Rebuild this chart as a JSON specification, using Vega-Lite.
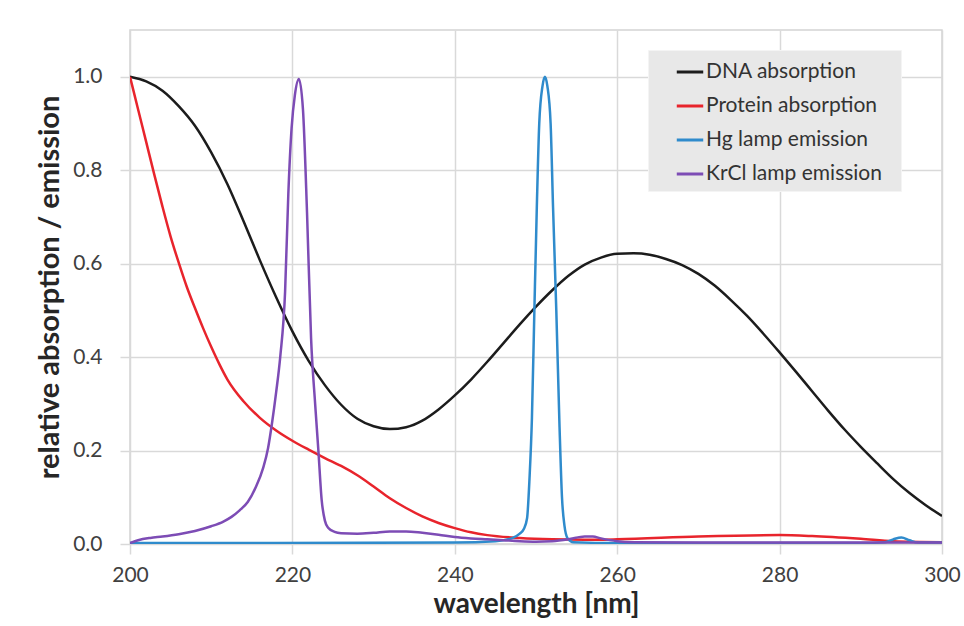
{
  "$schema": "https://vega.github.io/schema/vega-lite/v6.json",
  "autosize": "none",
  "width": 812,
  "height": 514,
  "padding": {"left": 130, "top": 30, "right": 22, "bottom": 82},
  "background": "white",
  "config": {
    "font": "Lato",
    "view": {"stroke": "#d4d4d4", "strokeWidth": 1.5}
  },
  "datasets": {
    "spectra": [
      {"series": "DNA absorption", "wavelength": 200, "value": 1.0},
      {"series": "DNA absorption", "wavelength": 202, "value": 0.99},
      {"series": "DNA absorption", "wavelength": 204, "value": 0.97},
      {"series": "DNA absorption", "wavelength": 206, "value": 0.937},
      {"series": "DNA absorption", "wavelength": 208, "value": 0.895},
      {"series": "DNA absorption", "wavelength": 210, "value": 0.838},
      {"series": "DNA absorption", "wavelength": 212, "value": 0.77},
      {"series": "DNA absorption", "wavelength": 214, "value": 0.69},
      {"series": "DNA absorption", "wavelength": 216, "value": 0.607},
      {"series": "DNA absorption", "wavelength": 218, "value": 0.528},
      {"series": "DNA absorption", "wavelength": 220, "value": 0.455},
      {"series": "DNA absorption", "wavelength": 222, "value": 0.392},
      {"series": "DNA absorption", "wavelength": 224, "value": 0.34},
      {"series": "DNA absorption", "wavelength": 226, "value": 0.298},
      {"series": "DNA absorption", "wavelength": 228, "value": 0.268},
      {"series": "DNA absorption", "wavelength": 230, "value": 0.252},
      {"series": "DNA absorption", "wavelength": 232, "value": 0.246},
      {"series": "DNA absorption", "wavelength": 234, "value": 0.25},
      {"series": "DNA absorption", "wavelength": 236, "value": 0.264},
      {"series": "DNA absorption", "wavelength": 238, "value": 0.288},
      {"series": "DNA absorption", "wavelength": 240, "value": 0.318},
      {"series": "DNA absorption", "wavelength": 242, "value": 0.352},
      {"series": "DNA absorption", "wavelength": 244, "value": 0.39},
      {"series": "DNA absorption", "wavelength": 246, "value": 0.43},
      {"series": "DNA absorption", "wavelength": 248, "value": 0.47},
      {"series": "DNA absorption", "wavelength": 250, "value": 0.508},
      {"series": "DNA absorption", "wavelength": 252, "value": 0.543},
      {"series": "DNA absorption", "wavelength": 254, "value": 0.574},
      {"series": "DNA absorption", "wavelength": 256, "value": 0.598},
      {"series": "DNA absorption", "wavelength": 258, "value": 0.613},
      {"series": "DNA absorption", "wavelength": 260, "value": 0.621},
      {"series": "DNA absorption", "wavelength": 262, "value": 0.622},
      {"series": "DNA absorption", "wavelength": 264, "value": 0.619},
      {"series": "DNA absorption", "wavelength": 266, "value": 0.61},
      {"series": "DNA absorption", "wavelength": 268, "value": 0.597},
      {"series": "DNA absorption", "wavelength": 270, "value": 0.578},
      {"series": "DNA absorption", "wavelength": 272, "value": 0.553},
      {"series": "DNA absorption", "wavelength": 274, "value": 0.522},
      {"series": "DNA absorption", "wavelength": 276, "value": 0.488},
      {"series": "DNA absorption", "wavelength": 278, "value": 0.45},
      {"series": "DNA absorption", "wavelength": 280, "value": 0.41},
      {"series": "DNA absorption", "wavelength": 282, "value": 0.369},
      {"series": "DNA absorption", "wavelength": 284, "value": 0.327},
      {"series": "DNA absorption", "wavelength": 286, "value": 0.285},
      {"series": "DNA absorption", "wavelength": 288, "value": 0.245},
      {"series": "DNA absorption", "wavelength": 290, "value": 0.208},
      {"series": "DNA absorption", "wavelength": 292, "value": 0.173},
      {"series": "DNA absorption", "wavelength": 294, "value": 0.139},
      {"series": "DNA absorption", "wavelength": 296, "value": 0.109},
      {"series": "DNA absorption", "wavelength": 298, "value": 0.083},
      {"series": "DNA absorption", "wavelength": 300, "value": 0.06},

      {"series": "Protein absorption", "wavelength": 200, "value": 1.0},
      {"series": "Protein absorption", "wavelength": 201, "value": 0.93},
      {"series": "Protein absorption", "wavelength": 202, "value": 0.86},
      {"series": "Protein absorption", "wavelength": 203, "value": 0.79},
      {"series": "Protein absorption", "wavelength": 204, "value": 0.722},
      {"series": "Protein absorption", "wavelength": 205, "value": 0.658},
      {"series": "Protein absorption", "wavelength": 206, "value": 0.602},
      {"series": "Protein absorption", "wavelength": 207, "value": 0.55},
      {"series": "Protein absorption", "wavelength": 208, "value": 0.505},
      {"series": "Protein absorption", "wavelength": 209, "value": 0.462},
      {"series": "Protein absorption", "wavelength": 210, "value": 0.422},
      {"series": "Protein absorption", "wavelength": 211, "value": 0.385},
      {"series": "Protein absorption", "wavelength": 212, "value": 0.352},
      {"series": "Protein absorption", "wavelength": 214, "value": 0.305},
      {"series": "Protein absorption", "wavelength": 216, "value": 0.27},
      {"series": "Protein absorption", "wavelength": 218, "value": 0.243},
      {"series": "Protein absorption", "wavelength": 220, "value": 0.221},
      {"series": "Protein absorption", "wavelength": 222, "value": 0.202},
      {"series": "Protein absorption", "wavelength": 224, "value": 0.184},
      {"series": "Protein absorption", "wavelength": 226, "value": 0.167},
      {"series": "Protein absorption", "wavelength": 228, "value": 0.147},
      {"series": "Protein absorption", "wavelength": 230, "value": 0.123},
      {"series": "Protein absorption", "wavelength": 232, "value": 0.098},
      {"series": "Protein absorption", "wavelength": 234, "value": 0.077},
      {"series": "Protein absorption", "wavelength": 236, "value": 0.059},
      {"series": "Protein absorption", "wavelength": 238, "value": 0.045},
      {"series": "Protein absorption", "wavelength": 240, "value": 0.034},
      {"series": "Protein absorption", "wavelength": 242, "value": 0.025},
      {"series": "Protein absorption", "wavelength": 244, "value": 0.019},
      {"series": "Protein absorption", "wavelength": 248, "value": 0.013},
      {"series": "Protein absorption", "wavelength": 252, "value": 0.01},
      {"series": "Protein absorption", "wavelength": 256, "value": 0.009},
      {"series": "Protein absorption", "wavelength": 260, "value": 0.01},
      {"series": "Protein absorption", "wavelength": 270, "value": 0.016},
      {"series": "Protein absorption", "wavelength": 280, "value": 0.019},
      {"series": "Protein absorption", "wavelength": 284, "value": 0.017},
      {"series": "Protein absorption", "wavelength": 290, "value": 0.011},
      {"series": "Protein absorption", "wavelength": 294, "value": 0.006},
      {"series": "Protein absorption", "wavelength": 300, "value": 0.004},

      {"series": "Hg lamp emission", "wavelength": 200, "value": 0.002},
      {"series": "Hg lamp emission", "wavelength": 240, "value": 0.003},
      {"series": "Hg lamp emission", "wavelength": 245, "value": 0.006},
      {"series": "Hg lamp emission", "wavelength": 247, "value": 0.012},
      {"series": "Hg lamp emission", "wavelength": 248, "value": 0.022},
      {"series": "Hg lamp emission", "wavelength": 248.5, "value": 0.032},
      {"series": "Hg lamp emission", "wavelength": 248.9, "value": 0.055},
      {"series": "Hg lamp emission", "wavelength": 249.2, "value": 0.14},
      {"series": "Hg lamp emission", "wavelength": 249.5, "value": 0.27},
      {"series": "Hg lamp emission", "wavelength": 249.8, "value": 0.5},
      {"series": "Hg lamp emission", "wavelength": 250.1, "value": 0.72},
      {"series": "Hg lamp emission", "wavelength": 250.4, "value": 0.9},
      {"series": "Hg lamp emission", "wavelength": 250.8, "value": 0.98},
      {"series": "Hg lamp emission", "wavelength": 251.1, "value": 1.0},
      {"series": "Hg lamp emission", "wavelength": 251.4, "value": 0.98},
      {"series": "Hg lamp emission", "wavelength": 251.8, "value": 0.9},
      {"series": "Hg lamp emission", "wavelength": 252.1, "value": 0.72},
      {"series": "Hg lamp emission", "wavelength": 252.5, "value": 0.5},
      {"series": "Hg lamp emission", "wavelength": 252.9, "value": 0.25},
      {"series": "Hg lamp emission", "wavelength": 253.2, "value": 0.1},
      {"series": "Hg lamp emission", "wavelength": 253.5, "value": 0.04},
      {"series": "Hg lamp emission", "wavelength": 253.9, "value": 0.012},
      {"series": "Hg lamp emission", "wavelength": 254.6, "value": 0.004},
      {"series": "Hg lamp emission", "wavelength": 260, "value": 0.002},
      {"series": "Hg lamp emission", "wavelength": 290, "value": 0.002},
      {"series": "Hg lamp emission", "wavelength": 293, "value": 0.004},
      {"series": "Hg lamp emission", "wavelength": 294, "value": 0.01},
      {"series": "Hg lamp emission", "wavelength": 295, "value": 0.014},
      {"series": "Hg lamp emission", "wavelength": 296, "value": 0.008},
      {"series": "Hg lamp emission", "wavelength": 297, "value": 0.003},
      {"series": "Hg lamp emission", "wavelength": 300, "value": 0.003},

      {"series": "KrCl lamp emission", "wavelength": 200, "value": 0.002},
      {"series": "KrCl lamp emission", "wavelength": 201, "value": 0.008},
      {"series": "KrCl lamp emission", "wavelength": 202.5, "value": 0.013},
      {"series": "KrCl lamp emission", "wavelength": 204, "value": 0.016},
      {"series": "KrCl lamp emission", "wavelength": 206, "value": 0.021},
      {"series": "KrCl lamp emission", "wavelength": 208, "value": 0.028},
      {"series": "KrCl lamp emission", "wavelength": 210, "value": 0.038},
      {"series": "KrCl lamp emission", "wavelength": 211.5, "value": 0.048},
      {"series": "KrCl lamp emission", "wavelength": 212.5, "value": 0.058},
      {"series": "KrCl lamp emission", "wavelength": 213.5, "value": 0.072},
      {"series": "KrCl lamp emission", "wavelength": 214.5, "value": 0.09},
      {"series": "KrCl lamp emission", "wavelength": 215.5, "value": 0.122},
      {"series": "KrCl lamp emission", "wavelength": 216.4, "value": 0.163},
      {"series": "KrCl lamp emission", "wavelength": 217, "value": 0.205},
      {"series": "KrCl lamp emission", "wavelength": 217.5, "value": 0.26},
      {"series": "KrCl lamp emission", "wavelength": 218, "value": 0.325},
      {"series": "KrCl lamp emission", "wavelength": 218.5, "value": 0.4},
      {"series": "KrCl lamp emission", "wavelength": 219.1, "value": 0.54},
      {"series": "KrCl lamp emission", "wavelength": 219.5, "value": 0.75},
      {"series": "KrCl lamp emission", "wavelength": 219.9, "value": 0.89},
      {"series": "KrCl lamp emission", "wavelength": 220.3, "value": 0.96},
      {"series": "KrCl lamp emission", "wavelength": 220.8, "value": 0.995},
      {"series": "KrCl lamp emission", "wavelength": 221.3, "value": 0.93},
      {"series": "KrCl lamp emission", "wavelength": 221.8, "value": 0.71},
      {"series": "KrCl lamp emission", "wavelength": 222.3, "value": 0.44},
      {"series": "KrCl lamp emission", "wavelength": 222.8, "value": 0.3},
      {"series": "KrCl lamp emission", "wavelength": 223.2, "value": 0.2},
      {"series": "KrCl lamp emission", "wavelength": 223.6, "value": 0.095},
      {"series": "KrCl lamp emission", "wavelength": 224, "value": 0.05},
      {"series": "KrCl lamp emission", "wavelength": 224.4, "value": 0.035},
      {"series": "KrCl lamp emission", "wavelength": 225.2, "value": 0.026},
      {"series": "KrCl lamp emission", "wavelength": 226, "value": 0.023},
      {"series": "KrCl lamp emission", "wavelength": 228, "value": 0.022},
      {"series": "KrCl lamp emission", "wavelength": 230, "value": 0.024},
      {"series": "KrCl lamp emission", "wavelength": 232, "value": 0.027},
      {"series": "KrCl lamp emission", "wavelength": 234, "value": 0.027},
      {"series": "KrCl lamp emission", "wavelength": 236, "value": 0.024},
      {"series": "KrCl lamp emission", "wavelength": 238, "value": 0.02},
      {"series": "KrCl lamp emission", "wavelength": 240, "value": 0.015},
      {"series": "KrCl lamp emission", "wavelength": 242, "value": 0.012},
      {"series": "KrCl lamp emission", "wavelength": 244, "value": 0.01},
      {"series": "KrCl lamp emission", "wavelength": 246, "value": 0.008},
      {"series": "KrCl lamp emission", "wavelength": 248, "value": 0.006},
      {"series": "KrCl lamp emission", "wavelength": 250, "value": 0.005},
      {"series": "KrCl lamp emission", "wavelength": 252, "value": 0.006},
      {"series": "KrCl lamp emission", "wavelength": 254, "value": 0.01},
      {"series": "KrCl lamp emission", "wavelength": 256, "value": 0.016},
      {"series": "KrCl lamp emission", "wavelength": 257, "value": 0.016},
      {"series": "KrCl lamp emission", "wavelength": 258, "value": 0.012},
      {"series": "KrCl lamp emission", "wavelength": 260, "value": 0.006},
      {"series": "KrCl lamp emission", "wavelength": 262, "value": 0.004},
      {"series": "KrCl lamp emission", "wavelength": 270, "value": 0.003},
      {"series": "KrCl lamp emission", "wavelength": 280, "value": 0.003},
      {"series": "KrCl lamp emission", "wavelength": 290, "value": 0.003},
      {"series": "KrCl lamp emission", "wavelength": 300, "value": 0.003}
    ]
  },
  "data": {"name": "spectra"},
  "mark": {"type": "line", "strokeWidth": 2.5, "interpolate": "monotone", "clip": true},
  "encoding": {
    "x": {
      "field": "wavelength",
      "type": "quantitative",
      "scale": {"domain": [200, 300], "nice": false, "zero": false},
      "axis": {
        "values": [200, 220, 240, 260, 280, 300],
        "grid": true,
        "gridColor": "#d9d9d9",
        "gridWidth": 1.5,
        "domain": false,
        "ticks": true,
        "tickColor": "#d9d9d9",
        "tickWidth": 1.5,
        "tickSize": 10,
        "labelFlush": false,
        "labelFontSize": 21,
        "labelColor": "#404040",
        "labelPadding": 10,
        "title": "wavelength [nm]",
        "titleFontSize": 28,
        "titleFontWeight": "bold",
        "titleColor": "#262626",
        "titlePadding": 5
      }
    },
    "y": {
      "field": "value",
      "type": "quantitative",
      "scale": {"domain": [0, 1.1], "nice": false},
      "axis": {
        "values": [0, 0.2, 0.4, 0.6, 0.8, 1.0],
        "format": ".1f",
        "grid": true,
        "gridColor": "#d9d9d9",
        "gridWidth": 1.5,
        "domain": false,
        "ticks": true,
        "tickColor": "#d9d9d9",
        "tickWidth": 1.5,
        "tickSize": 10,
        "labelFlush": false,
        "labelFontSize": 21,
        "labelColor": "#404040",
        "labelPadding": 18,
        "title": "relative absorption / emission",
        "titleFontSize": 29,
        "titleFontWeight": "bold",
        "titleColor": "#262626",
        "titlePadding": 8
      }
    },
    "color": {
      "field": "series",
      "type": "nominal",
      "scale": {
        "domain": ["DNA absorption", "Protein absorption", "Hg lamp emission", "KrCl lamp emission"],
        "range": ["#1c1c1c", "#e8242c", "#2f8bcc", "#7d4cb5"]
      },
      "legend": {
        "title": " ",
        "titleOrient": "right",
        "titlePadding": 12,
        "titleFontSize": 10,
        "orient": "none",
        "legendX": 518,
        "legendY": 20,
        "fillColor": "#e8e8e8",
        "strokeColor": "#f4f4f4",
        "padding": 7,
        "symbolType": "stroke",
        "symbolSize": 700,
        "symbolStrokeWidth": 3,
        "symbolOffset": 20,
        "labelOffset": 1,
        "labelLimit": 400,
        "labelFontSize": 21,
        "labelColor": "#333333",
        "rowPadding": 9
      }
    }
  }
}
